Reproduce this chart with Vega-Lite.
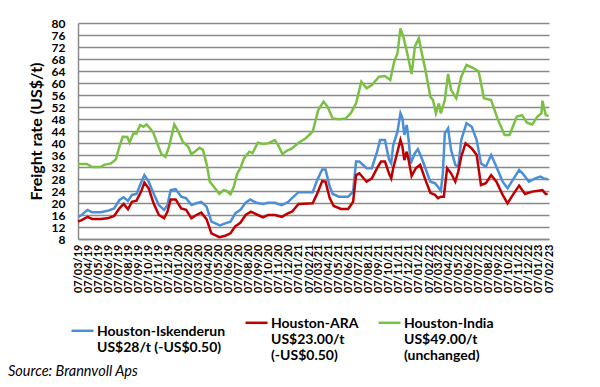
{
  "$schema": "https://vega.github.io/schema/vega-lite/v6.json",
  "width": 471,
  "height": 216,
  "autosize": {"type": "none"},
  "padding": {"left": 78, "top": 23, "right": 51, "bottom": 148},
  "background": "white",
  "config": {"view": {"stroke": null}, "font": "Lato"},
  "title": {"text": "Source: Brannvoll Aps", "orient": "bottom", "anchor": "start", "frame": "group", "dx": -70, "offset": 2, "font": "Lato", "fontSize": 14.5, "fontStyle": "italic", "fontWeight": "normal", "color": "black"},
  "datasets": {
    "india": [
      {"d":"2019-03-07","v":33},{"d":"2019-04-03","v":33},{"d":"2019-04-19","v":32},{"d":"2019-05-15","v":32},{"d":"2019-05-25","v":32.7},{"d":"2019-06-15","v":33.2},{"d":"2019-06-30","v":34.5},{"d":"2019-07-11","v":38.8},{"d":"2019-07-21","v":42.1},{"d":"2019-08-04","v":42},{"d":"2019-08-11","v":40.1},{"d":"2019-08-22","v":43.2},{"d":"2019-09-01","v":43.2},{"d":"2019-09-12","v":46},{"d":"2019-09-22","v":45.4},{"d":"2019-10-02","v":46.2},{"d":"2019-10-12","v":44.9},{"d":"2019-10-23","v":43.2},{"d":"2019-11-03","v":39.9},{"d":"2019-11-16","v":36.3},{"d":"2019-11-28","v":35.4},{"d":"2019-12-09","v":38.8},{"d":"2019-12-25","v":46.2},{"d":"2020-01-04","v":44.3},{"d":"2020-01-20","v":40.4},{"d":"2020-02-05","v":38.8},{"d":"2020-02-15","v":36.3},{"d":"2020-02-25","v":37.1},{"d":"2020-03-11","v":38.4},{"d":"2020-03-21","v":37.7},{"d":"2020-04-01","v":33.2},{"d":"2020-04-11","v":27.1},{"d":"2020-04-27","v":24.9},{"d":"2020-05-10","v":23},{"d":"2020-05-23","v":24.3},{"d":"2020-05-31","v":24.1},{"d":"2020-06-13","v":22.9},{"d":"2020-06-23","v":25.4},{"d":"2020-07-03","v":29.7},{"d":"2020-07-13","v":31.6},{"d":"2020-07-24","v":34.9},{"d":"2020-08-09","v":37.1},{"d":"2020-08-19","v":36.6},{"d":"2020-09-04","v":40.1},{"d":"2020-09-20","v":39.7},{"d":"2020-10-05","v":39.9},{"d":"2020-10-26","v":41},{"d":"2020-11-05","v":39.3},{"d":"2020-11-18","v":36.3},{"d":"2020-12-01","v":37.4},{"d":"2020-12-17","v":38.2},{"d":"2021-01-06","v":40.1},{"d":"2021-01-28","v":41.6},{"d":"2021-02-18","v":43.8},{"d":"2021-03-07","v":51},{"d":"2021-03-23","v":53.8},{"d":"2021-04-04","v":52.1},{"d":"2021-04-20","v":48.2},{"d":"2021-05-09","v":47.9},{"d":"2021-05-30","v":48.2},{"d":"2021-06-15","v":50.1},{"d":"2021-06-30","v":53.2},{"d":"2021-07-16","v":60.4},{"d":"2021-08-01","v":58.2},{"d":"2021-08-17","v":59.3},{"d":"2021-09-08","v":62.1},{"d":"2021-09-26","v":62.3},{"d":"2021-10-12","v":61},{"d":"2021-10-24","v":67.1},{"d":"2021-11-03","v":69.9},{"d":"2021-11-12","v":78.2},{"d":"2021-11-21","v":75.4},{"d":"2021-12-04","v":69.3},{"d":"2021-12-16","v":63},{"d":"2021-12-26","v":72.1},{"d":"2022-01-07","v":74.9},{"d":"2022-01-14","v":71},{"d":"2022-01-27","v":64.3},{"d":"2022-02-11","v":55.4},{"d":"2022-02-19","v":54.3},{"d":"2022-02-28","v":49.9},{"d":"2022-03-09","v":53.2},{"d":"2022-03-15","v":49.9},{"d":"2022-03-27","v":54.3},{"d":"2022-04-06","v":63},{"d":"2022-04-15","v":57.7},{"d":"2022-05-01","v":54.9},{"d":"2022-05-16","v":62.1},{"d":"2022-06-01","v":66},{"d":"2022-06-23","v":64.9},{"d":"2022-07-08","v":63.8},{"d":"2022-07-24","v":54.9},{"d":"2022-08-15","v":54.3},{"d":"2022-09-03","v":48.2},{"d":"2022-09-25","v":42.7},{"d":"2022-10-10","v":42.7},{"d":"2022-11-01","v":48.8},{"d":"2022-11-17","v":49.3},{"d":"2022-12-02","v":46.8},{"d":"2022-12-18","v":46.2},{"d":"2023-01-03","v":48.8},{"d":"2023-01-15","v":49.9},{"d":"2023-01-18","v":54.1},{"d":"2023-01-28","v":49.3},{"d":"2023-02-06","v":49}
    ],
    "isk": [
      {"d":"2019-03-07","v":15.4},{"d":"2019-03-18","v":16},{"d":"2019-04-05","v":17.7},{"d":"2019-04-19","v":16.9},{"d":"2019-05-15","v":16.9},{"d":"2019-06-05","v":17.4},{"d":"2019-06-25","v":18.2},{"d":"2019-07-11","v":21},{"d":"2019-07-24","v":21.9},{"d":"2019-08-06","v":20.7},{"d":"2019-08-18","v":22.7},{"d":"2019-09-01","v":23},{"d":"2019-09-12","v":26},{"d":"2019-09-25","v":29.3},{"d":"2019-10-08","v":27.1},{"d":"2019-10-23","v":23.2},{"d":"2019-11-08","v":19.3},{"d":"2019-11-24","v":17.7},{"d":"2019-12-04","v":19.3},{"d":"2019-12-14","v":24.3},{"d":"2019-12-29","v":24.6},{"d":"2020-01-15","v":22.1},{"d":"2020-01-30","v":21.6},{"d":"2020-02-15","v":19.3},{"d":"2020-03-01","v":19.9},{"d":"2020-03-16","v":20.4},{"d":"2020-04-01","v":18.8},{"d":"2020-04-16","v":13.8},{"d":"2020-05-12","v":12.5},{"d":"2020-05-28","v":13.2},{"d":"2020-06-13","v":13.8},{"d":"2020-06-28","v":16.6},{"d":"2020-07-13","v":17.7},{"d":"2020-07-29","v":20.1},{"d":"2020-08-12","v":21.2},{"d":"2020-08-30","v":20.1},{"d":"2020-09-20","v":19.7},{"d":"2020-10-05","v":20.1},{"d":"2020-10-26","v":20.1},{"d":"2020-11-16","v":19.3},{"d":"2020-12-06","v":20.4},{"d":"2020-12-17","v":21.6},{"d":"2021-01-06","v":23.6},{"d":"2021-02-18","v":23.6},{"d":"2021-03-04","v":27.7},{"d":"2021-03-19","v":31.2},{"d":"2021-03-29","v":31.2},{"d":"2021-04-11","v":25.4},{"d":"2021-04-20","v":23},{"d":"2021-05-09","v":22.1},{"d":"2021-06-06","v":22.1},{"d":"2021-06-21","v":23.8},{"d":"2021-06-30","v":33.8},{"d":"2021-07-10","v":33.8},{"d":"2021-08-01","v":31.6},{"d":"2021-08-17","v":31.6},{"d":"2021-09-02","v":37.1},{"d":"2021-09-11","v":41},{"d":"2021-09-26","v":41},{"d":"2021-10-08","v":34.6},{"d":"2021-10-15","v":33.2},{"d":"2021-10-21","v":39.3},{"d":"2021-11-03","v":43.8},{"d":"2021-11-12","v":49.9},{"d":"2021-11-18","v":48.2},{"d":"2021-11-24","v":42.7},{"d":"2021-12-01","v":46},{"d":"2021-12-07","v":41},{"d":"2021-12-13","v":33.2},{"d":"2021-12-26","v":36.6},{"d":"2022-01-04","v":37.9},{"d":"2022-01-14","v":35.4},{"d":"2022-01-27","v":31.6},{"d":"2022-02-11","v":27.1},{"d":"2022-02-25","v":26.6},{"d":"2022-03-06","v":25.4},{"d":"2022-03-15","v":24.1},{"d":"2022-03-21","v":29.9},{"d":"2022-03-27","v":43.2},{"d":"2022-04-06","v":44.9},{"d":"2022-04-15","v":37.7},{"d":"2022-04-28","v":32.7},{"d":"2022-05-07","v":32.1},{"d":"2022-05-16","v":41},{"d":"2022-06-01","v":46.6},{"d":"2022-06-17","v":45.4},{"d":"2022-07-02","v":41},{"d":"2022-07-15","v":33.2},{"d":"2022-07-30","v":32.1},{"d":"2022-08-15","v":36},{"d":"2022-08-31","v":32.1},{"d":"2022-09-19","v":27.1},{"d":"2022-10-04","v":24.9},{"d":"2022-10-20","v":27.7},{"d":"2022-11-08","v":31},{"d":"2022-11-20","v":29.7},{"d":"2022-12-08","v":27.1},{"d":"2022-12-27","v":28.2},{"d":"2023-01-12","v":28.8},{"d":"2023-01-22","v":28.2},{"d":"2023-02-03","v":27.9}
    ],
    "ara": [
      {"d":"2019-03-07","v":13.8},{"d":"2019-03-18","v":14.3},{"d":"2019-04-05","v":15.4},{"d":"2019-04-19","v":14.7},{"d":"2019-05-15","v":14.7},{"d":"2019-06-05","v":14.9},{"d":"2019-06-25","v":15.7},{"d":"2019-07-11","v":18.2},{"d":"2019-07-24","v":19.7},{"d":"2019-08-06","v":17.9},{"d":"2019-08-18","v":20.4},{"d":"2019-09-01","v":20.8},{"d":"2019-09-15","v":23.8},{"d":"2019-09-25","v":26.8},{"d":"2019-10-08","v":24.9},{"d":"2019-10-23","v":19.9},{"d":"2019-11-08","v":16},{"d":"2019-11-24","v":14.9},{"d":"2019-12-04","v":17.1},{"d":"2019-12-14","v":21.2},{"d":"2019-12-29","v":21.2},{"d":"2020-01-15","v":18.2},{"d":"2020-01-30","v":17.7},{"d":"2020-02-15","v":14.9},{"d":"2020-03-01","v":16},{"d":"2020-03-16","v":16.8},{"d":"2020-04-01","v":14.6},{"d":"2020-04-16","v":9.9},{"d":"2020-05-10","v":8.6},{"d":"2020-05-28","v":9.1},{"d":"2020-06-13","v":9.9},{"d":"2020-06-28","v":12.3},{"d":"2020-07-13","v":13.4},{"d":"2020-07-29","v":16},{"d":"2020-08-14","v":17.1},{"d":"2020-09-04","v":16},{"d":"2020-09-20","v":15.2},{"d":"2020-10-05","v":16},{"d":"2020-10-26","v":16},{"d":"2020-11-16","v":15.4},{"d":"2020-12-06","v":16.6},{"d":"2020-12-17","v":17.1},{"d":"2021-01-06","v":19.7},{"d":"2021-02-18","v":19.9},{"d":"2021-03-04","v":23.2},{"d":"2021-03-19","v":27.3},{"d":"2021-03-29","v":27.1},{"d":"2021-04-11","v":21.6},{"d":"2021-04-23","v":19},{"d":"2021-05-15","v":18},{"d":"2021-06-06","v":18},{"d":"2021-06-21","v":20.4},{"d":"2021-06-30","v":29.3},{"d":"2021-07-10","v":29.9},{"d":"2021-08-01","v":27.1},{"d":"2021-08-17","v":28.2},{"d":"2021-09-02","v":31.6},{"d":"2021-09-14","v":33.8},{"d":"2021-09-26","v":33.8},{"d":"2021-10-08","v":29.9},{"d":"2021-10-15","v":28.2},{"d":"2021-10-21","v":31.6},{"d":"2021-11-03","v":37.1},{"d":"2021-11-12","v":41},{"d":"2021-11-18","v":38.8},{"d":"2021-11-24","v":34.3},{"d":"2021-12-01","v":37.1},{"d":"2021-12-07","v":34.3},{"d":"2021-12-16","v":29},{"d":"2021-12-29","v":31.6},{"d":"2022-01-11","v":32.7},{"d":"2022-01-27","v":27.7},{"d":"2022-02-11","v":23.4},{"d":"2022-02-25","v":22.7},{"d":"2022-03-06","v":21.6},{"d":"2022-03-15","v":22.1},{"d":"2022-03-24","v":22.1},{"d":"2022-04-03","v":31.6},{"d":"2022-04-15","v":29.9},{"d":"2022-04-28","v":27.1},{"d":"2022-05-07","v":30.5},{"d":"2022-05-16","v":35.4},{"d":"2022-05-29","v":39.9},{"d":"2022-06-17","v":38.2},{"d":"2022-07-02","v":36},{"d":"2022-07-15","v":26},{"d":"2022-07-30","v":26.6},{"d":"2022-08-15","v":29.3},{"d":"2022-08-31","v":27.1},{"d":"2022-09-19","v":22.7},{"d":"2022-10-04","v":19.9},{"d":"2022-10-20","v":22.7},{"d":"2022-11-08","v":25.8},{"d":"2022-11-26","v":23},{"d":"2022-12-18","v":23.8},{"d":"2023-01-06","v":24.1},{"d":"2023-01-18","v":24.3},{"d":"2023-01-28","v":23},{"d":"2023-02-03","v":23}
    ]
  },
  "encoding": {
    "x": {
      "field": "d", "type": "temporal",
      "scale": {"type": "utc", "domain": [{"year": 2019, "month": 3, "date": 7, "utc": true}, {"year": 2023, "month": 2, "date": 7, "utc": true}]},
      "axis": {
        "title": null, "format": "%d/%m/%y", "labelAngle": -90, "labelFont": "Lato", "labelFontSize": 11, "labelFontWeight": "bold", "labelColor": "black",
        "labelOverlap": false, "labelFlush": false, "labelPadding": 5, "ticks": false, "grid": false, "domainColor": "#8a8a8a", "domainWidth": 1.5,
        "values": [
          {"year":2019,"month":3,"date":7,"utc":true},{"year":2019,"month":4,"date":7,"utc":true},{"year":2019,"month":5,"date":7,"utc":true},{"year":2019,"month":6,"date":7,"utc":true},{"year":2019,"month":7,"date":7,"utc":true},{"year":2019,"month":8,"date":7,"utc":true},{"year":2019,"month":9,"date":7,"utc":true},{"year":2019,"month":10,"date":7,"utc":true},{"year":2019,"month":11,"date":7,"utc":true},{"year":2019,"month":12,"date":7,"utc":true},
          {"year":2020,"month":1,"date":7,"utc":true},{"year":2020,"month":2,"date":7,"utc":true},{"year":2020,"month":3,"date":7,"utc":true},{"year":2020,"month":4,"date":7,"utc":true},{"year":2020,"month":5,"date":7,"utc":true},{"year":2020,"month":6,"date":7,"utc":true},{"year":2020,"month":7,"date":7,"utc":true},{"year":2020,"month":8,"date":7,"utc":true},{"year":2020,"month":9,"date":7,"utc":true},{"year":2020,"month":10,"date":7,"utc":true},{"year":2020,"month":11,"date":7,"utc":true},{"year":2020,"month":12,"date":7,"utc":true},
          {"year":2021,"month":1,"date":7,"utc":true},{"year":2021,"month":2,"date":7,"utc":true},{"year":2021,"month":3,"date":7,"utc":true},{"year":2021,"month":4,"date":7,"utc":true},{"year":2021,"month":5,"date":7,"utc":true},{"year":2021,"month":6,"date":7,"utc":true},{"year":2021,"month":7,"date":7,"utc":true},{"year":2021,"month":8,"date":7,"utc":true},{"year":2021,"month":9,"date":7,"utc":true},{"year":2021,"month":10,"date":7,"utc":true},{"year":2021,"month":11,"date":7,"utc":true},{"year":2021,"month":12,"date":7,"utc":true},
          {"year":2022,"month":1,"date":7,"utc":true},{"year":2022,"month":2,"date":7,"utc":true},{"year":2022,"month":3,"date":7,"utc":true},{"year":2022,"month":4,"date":7,"utc":true},{"year":2022,"month":5,"date":7,"utc":true},{"year":2022,"month":6,"date":7,"utc":true},{"year":2022,"month":7,"date":7,"utc":true},{"year":2022,"month":8,"date":7,"utc":true},{"year":2022,"month":9,"date":7,"utc":true},{"year":2022,"month":10,"date":7,"utc":true},{"year":2022,"month":11,"date":7,"utc":true},{"year":2022,"month":12,"date":7,"utc":true},
          {"year":2023,"month":1,"date":7,"utc":true},{"year":2023,"month":2,"date":7,"utc":true}
        ]
      }
    },
    "y": {
      "field": "v", "type": "quantitative",
      "scale": {"domain": [8, 80], "nice": false, "zero": false},
      "axis": {
        "values": [8,12,16,20,24,28,32,36,40,44,48,52,56,60,64,68,72,76,80],
        "title": "Freight rate (US$/t)", "titleFont": "Lato", "titleFontSize": 16, "titleFontWeight": "bold", "titleColor": "black", "titlePadding": 7,
        "labelFont": "Lato", "labelFontSize": 12, "labelFontWeight": "bold", "labelColor": "black", "labelPadding": 13, "labelOverlap": false, "labelFlush": false,
        "ticks": false, "grid": true, "gridColor": "#8a8a8a", "gridWidth": 1.5, "domainColor": "#8a8a8a", "domainWidth": 1.5
      }
    }
  },
  "layer": [
    {
      "data": {"name": "india"},
      "mark": {"type": "line", "strokeWidth": 2.5},
      "encoding": {
        "color": {
          "datum": "Houston-India", "type": "nominal",
          "scale": {"domain": ["Houston-Iskenderun", "Houston-ARA", "Houston-India"], "range": ["#4a8fd8", "#c00000", "#7ac143"]},
          "legend": {
            "orient": "none", "legendX": -8, "legendY": 292, "direction": "horizontal", "columns": 3, "title": null,
            "symbolType": "M-1,-0.45L1,-0.45", "symbolSize": 484, "symbolStrokeWidth": 2.5,
            "labelFont": "Lato", "labelFontSize": 14, "labelFontWeight": "bold", "labelColor": "black", "labelBaseline": "alphabetic",
            "labelLimit": 0, "labelOffset": 2, "columnPadding": 14,
            "labelExpr": "datum.label == 'Houston-Iskenderun' ? ['Houston-Iskenderun', 'US$28/t (-US$0.50)'] : datum.label == 'Houston-ARA' ? ['Houston-ARA', 'US$23.00/t', '(-US$0.50)'] : ['Houston-India', 'US$49.00/t', '(unchanged)']"
          }
        }
      }
    },
    {
      "data": {"name": "isk"},
      "mark": {"type": "line", "strokeWidth": 2.5},
      "encoding": {"color": {"datum": "Houston-Iskenderun", "type": "nominal"}}
    },
    {
      "data": {"name": "ara"},
      "mark": {"type": "line", "strokeWidth": 2.5},
      "encoding": {"color": {"datum": "Houston-ARA", "type": "nominal"}}
    }
  ]
}
